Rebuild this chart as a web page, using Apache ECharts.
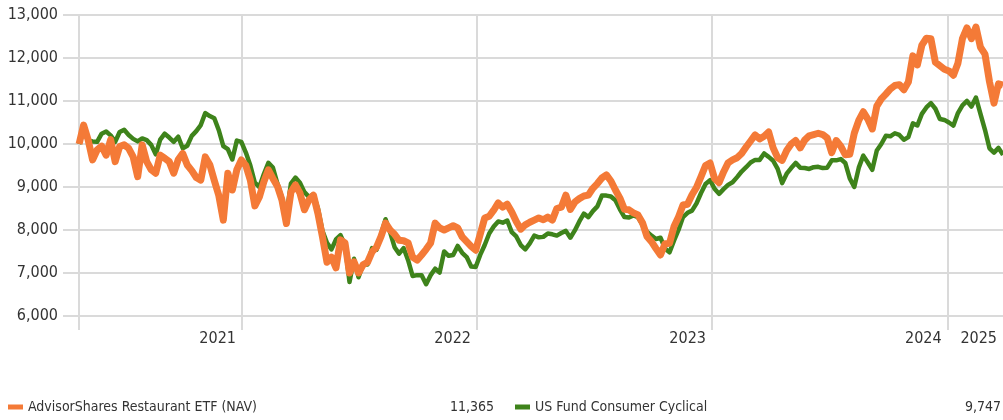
<!DOCTYPE html>
<html><head><meta charset="utf-8">
<script src="https://cdn.jsdelivr.net/npm/echarts@6/dist/echarts.min.js"></script>
<style>html,body{margin:0;padding:0;background:#fff}#c{width:1003px;height:420px}</style>
</head><body><div id="c"></div>
<script>
const seriesNames = ['AdvisorShares Restaurant ETF (NAV)', 'US Fund Consumer Cyclical'];
const lastValues = ['11,365', '9,747'];
const startDate = '2021-04-23'; // weekly observations from this date
const restaurantEtf = [
 10000,10440,10100,9630,9860,9950,9740,10100,9590,9940,
 9980,9900,9700,9240,9980,9590,9400,9320,9740,9670,
 9590,9320,9640,9780,9510,9380,9220,9160,9700,9520,
 9150,8800,8230,9320,8930,9400,9630,9500,9160,8560,
 8770,9120,9400,9200,9020,8700,8150,8880,9050,8860,
 8470,8700,8810,8380,7840,7250,7370,7120,7770,7700,
 7000,7260,7000,7190,7250,7490,7600,7850,8160,8000,
 7900,7760,7750,7700,7370,7300,7420,7550,7700,8160,
 8050,8000,8050,8100,8050,7840,7730,7620,7530,7900,
 8280,8320,8460,8630,8530,8600,8420,8200,8020,8120,
 8180,8230,8280,8240,8300,8230,8500,8530,8810,8480,
 8650,8730,8790,8810,8970,9080,9210,9280,9140,8930,
 8740,8480,8470,8400,8350,8170,7850,7730,7570,7420,
 7680,7690,8080,8300,8580,8600,8820,8990,9240,9500,
 9560,9200,9100,9350,9560,9630,9680,9780,9930,10070,
 10210,10120,10180,10280,9910,9680,9620,9850,10000,10080,
 9910,10090,10190,10220,10250,10220,10140,9800,10080,9950,
 9750,9760,10250,10550,10750,10580,10350,10880,11050,11160,
 11280,11360,11380,11260,11440,12050,11840,12300,12460,12450,
 11900,11820,11740,11700,11600,11880,12450,12700,12450,12720,
 12250,12090,11450,10950,11400,11365
];
const consumerCyclical = [
 10000,10300,10080,10060,10050,10240,10290,10200,10050,10280,
 10330,10210,10120,10060,10130,10090,9980,9760,10100,10240,
 10150,10050,10170,9900,9960,10190,10300,10440,10720,10650,
 10600,10320,9950,9880,9640,10080,10050,9800,9500,9100,
 9000,9300,9560,9450,9080,8760,8350,9080,9220,9100,
 8880,8770,8830,8500,7980,7700,7550,7780,7880,7650,
 6790,7330,6900,7190,7200,7580,7540,7900,8250,7950,
 7600,7450,7580,7300,6930,6950,6950,6740,6950,7100,
 7010,7500,7400,7420,7630,7470,7370,7150,7140,7420,
 7650,7920,8080,8200,8170,8220,7950,7850,7650,7550,
 7690,7870,7830,7840,7920,7900,7870,7930,7980,7820,
 7990,8200,8380,8300,8440,8550,8800,8800,8780,8690,
 8480,8300,8290,8340,8300,8120,7960,7870,7790,7820,
 7570,7480,7750,8000,8300,8400,8450,8620,8860,9070,
 9160,8960,8840,8950,9050,9110,9230,9360,9460,9570,
 9630,9630,9780,9700,9610,9420,9090,9310,9440,9560,
 9450,9440,9420,9460,9470,9440,9450,9620,9620,9650,
 9560,9200,9000,9450,9730,9570,9400,9850,10000,10190,
 10180,10250,10210,10100,10160,10480,10430,10700,10850,10950,
 10820,10580,10560,10500,10430,10720,10900,11000,10870,11080,
 10700,10330,9900,9800,9910,9747
];
const yMin = 6000, yMax = 13000, yStep = 1000;
const xMinDate = '2021-03-29', xMaxDate = '2025-03-28';
const yearLineDates = ['2021-04-23', '2022-01-01', '2023-01-01', '2024-01-01', '2025-01-01'];
const yearLabelDates = ['2022-01-01', '2023-01-01', '2024-01-01', '2025-01-01', '2025-03-28'];
const yearLabelTexts = ['2021', '2022', '2023', '2024', '2025'];

const DAY = 86400000;
const t0 = Date.parse(startDate);
const dates = restaurantEtf.map((_, i) => t0 + i * 7 * DAY);
const orange = '#f47a37', green = '#3e831b';
const font = "'Liberation Sans Narrow', 'DejaVu Sans Condensed', 'Roboto', sans-serif";
const labelTs = yearLabelDates.map(d => Date.parse(d));

const chart = echarts.init(document.getElementById('c'), null, {renderer: 'canvas'});
chart.setOption({
  animation: false,
  backgroundColor: '#fff',
  grid: {left: 63, right: 0, top: 15, bottom: 104, containLabel: false, outerBoundsMode: 'none'},
  xAxis: {
    type: 'value',
    min: Date.parse(xMinDate), max: Date.parse(xMaxDate),
    axisLine: {show: false},
    axisTick: {show: true, customValues: yearLineDates.map(d => Date.parse(d)), length: 14,
      lineStyle: {color: '#dadada', width: 2}},
    splitLine: {show: true, lineStyle: {color: '#dadada', width: 2}},
    axisLabel: {
      customValues: labelTs, align: 'right', padding: [0, 6, 0, 0], margin: 15,
      fontSize: 16, color: '#333', fontFamily: font, hideOverlap: false,
      formatter: v => {
        let best = 0;
        labelTs.forEach((t, i) => { if (Math.abs(t - v) < Math.abs(labelTs[best] - v)) best = i; });
        return yearLabelTexts[best];
      }
    }
  },
  yAxis: {
    type: 'value', min: yMin, max: yMax, interval: yStep,
    axisLine: {show: false}, axisTick: {show: false},
    splitLine: {show: true, lineStyle: {color: '#dadada', width: 2}},
    axisLabel: {margin: 5, fontSize: 16, color: '#333', fontFamily: font,
      formatter: v => v.toLocaleString('en-US')}
  },
  legend: {
    left: 8, top: 400, width: 995, padding: 0, orient: 'horizontal',
    icon: 'rect', itemWidth: 15, itemHeight: 5, itemGap: 21,
    data: [{name: seriesNames[0], itemStyle: {color: orange}}, {name: seriesNames[1], itemStyle: {color: green}}],
    formatter: name => `{n|${name}}{v|${lastValues[seriesNames.indexOf(name)]}}`,
    textStyle: {fontFamily: font, fontSize: 14, color: '#333',
      rich: {n: {width: 400, fontFamily: font, fontSize: 14, color: '#333'},
             v: {width: 66, align: 'right', fontFamily: font, fontSize: 14, color: '#333'}}}
  },
  series: [
    {name: seriesNames[1], type: 'line', showSymbol: false, symbol: 'none',
      data: dates.map((d, i) => [d, consumerCyclical[i]]),
      lineStyle: {color: green, width: 4.5, join: 'round'}, itemStyle: {color: green}},
    {name: seriesNames[0], type: 'line', showSymbol: false, symbol: 'none',
      data: dates.map((d, i) => [d, restaurantEtf[i]]),
      lineStyle: {color: orange, width: 7, join: 'round'}, itemStyle: {color: orange}}
  ]
});
</script></body></html>
